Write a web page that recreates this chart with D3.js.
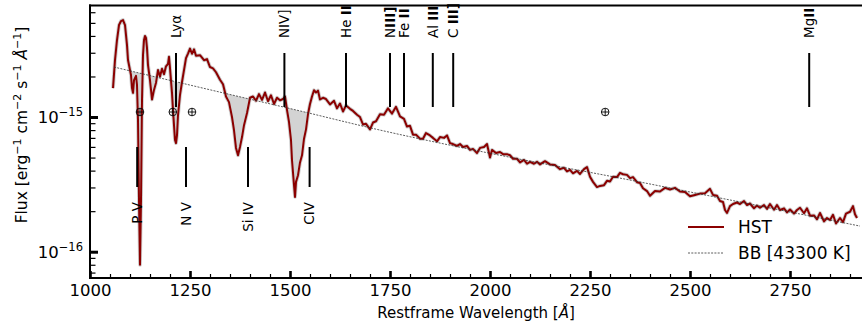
<!DOCTYPE html>
<html>
<head>
<meta charset="utf-8">
<script src="https://cdn.jsdelivr.net/npm/d3@7"></script>
<style>
  body { margin: 0; background: #fff; }
  svg { display: block; font-family: "DejaVu Sans", sans-serif; }
</style>
</head>
<body>
<svg id="chart" width="862" height="325"></svg>
<script>
// flux values are in units of 1e-16 erg cm^-2 s^-1 A^-1
const fluxUnit = 1e-16;

const waveHST = [
  1057.5, 1062.5, 1067.5, 1072.5, 1077.5, 1082.5, 1087.5, 1092.5, 1095, 1100,
  1102.5, 1105, 1107.5, 1110, 1115, 1117.5, 1120, 1122.5, 1125, 1127.5,
  1130, 1132.5, 1135, 1137.5, 1140, 1142.5, 1145, 1150, 1155, 1160,
  1165, 1170, 1175, 1180, 1185, 1190, 1195, 1197.5, 1200, 1205,
  1207.5, 1210, 1212.5, 1215, 1217.5, 1220, 1225, 1230, 1235, 1240,
  1245, 1250, 1255, 1260, 1265, 1275, 1285, 1292.5, 1300, 1307.5,
  1315, 1325, 1332.5, 1340, 1347.5, 1355, 1360, 1365, 1370, 1375,
  1380, 1385, 1392.5, 1400, 1407.5, 1415, 1422.5, 1430, 1437.5, 1445,
  1452.5, 1460, 1467.5, 1475, 1482.5, 1487.5, 1492.5, 1497.5, 1502.5, 1505,
  1510, 1512.5, 1515, 1520, 1525, 1530, 1535, 1540, 1545, 1550,
  1555, 1560, 1565, 1570, 1575, 1582.5, 1590, 1600, 1610, 1617.5,
  1625, 1632.5, 1640, 1650, 1657.5, 1667.5, 1675, 1682.5, 1690, 1700,
  1707.5, 1715, 1725, 1735, 1745, 1755, 1765, 1775, 1785, 1792.5,
  1800, 1807.5, 1815, 1825, 1832.5, 1840, 1850, 1857.5, 1867.5, 1875,
  1885, 1892.5, 1900, 1907.5, 1917.5, 1925, 1932.5, 1942.5, 1950, 1957.5,
  1967.5, 1975, 1985, 1992.5, 2000, 2005, 2015, 2025, 2032.5, 2042.5,
  2050, 2057.5, 2067.5, 2075, 2085, 2092.5, 2100, 2110, 2117.5, 2125,
  2137.5, 2150, 2162.5, 2175, 2185, 2192.5, 2200, 2207.5, 2217.5, 2225,
  2235, 2242.5, 2250, 2257.5, 2267.5, 2275, 2285, 2292.5, 2300, 2307.5,
  2317.5, 2325, 2332.5, 2342.5, 2350, 2357.5, 2367.5, 2375, 2382.5, 2392.5,
  2400, 2412.5, 2425, 2437.5, 2450, 2462.5, 2475, 2487.5, 2500, 2512.5,
  2525, 2537.5, 2550, 2557.5, 2567.5, 2575, 2582.5, 2587.5, 2592.5, 2600,
  2607.5, 2617.5, 2625, 2635, 2642.5, 2650, 2660, 2667.5, 2675, 2685,
  2692.5, 2700, 2710, 2717.5, 2725, 2735, 2742.5, 2750, 2760, 2767.5,
  2775, 2785, 2792.5, 2800, 2810, 2817.5, 2825, 2835, 2842.5, 2850,
  2857.5, 2865, 2875, 2882.5, 2890, 2900, 2907.5, 2912.5, 2917.5
];
const fluxHST = [
  16.4, 26.5, 37.3, 48.2, 51.6, 52.5, 48.2, 34.2, 26.5, 22.3,
  20.5, 16.4, 15.1, 18.8, 20.2, 17.3, 9.5, 2.42, 0.80, 2.42,
  13.4, 28.9, 37.3, 39.9, 38.6, 32.5, 24.3, 18.8, 13.5, 15.9,
  18.0, 22.3, 20.0, 22.8, 20.8, 23.8, 24.8, 28.0, 23.1, 15.1,
  11.3, 8.7, 6.75, 6.4, 7.35, 10.3, 14.6, 18.2, 22.3, 27.4,
  29.6, 32.2, 29.5, 31.8, 28.5, 28.8, 26.4, 26.9, 23.5, 23.0,
  21.5, 18.9, 17.5, 14.2, 12.9, 10.0, 8.0, 5.9, 5.2, 6.0,
  7.1, 8.7, 10.7, 13.9, 14.2, 13.2, 14.8, 13.4, 15.2, 13.1,
  14.5, 12.5, 13.9, 13.3, 13.6, 14.2, 11.3, 9.2, 6.75, 4.8,
  3.13, 2.55, 3.3, 3.7, 4.6, 5.2, 6.9, 8.1, 10.5, 12.5,
  14.2, 15.8, 15.2, 15.7, 13.5, 13.9, 13.6, 12.4, 13.2, 11.6,
  12.6, 11.0, 12.2, 11.5, 11.1, 10.4, 10.0, 8.8, 8.9, 8.1,
  9.1, 9.3, 10.5, 10.4, 11.6, 10.6, 11.9, 10.1, 9.7, 8.5,
  8.6, 7.4, 7.4, 6.9, 6.9, 7.6, 7.3, 7.0, 6.6, 7.1,
  7.0, 7.3, 6.4, 6.3, 6.1, 6.3, 6.0, 6.1, 5.7, 5.8,
  5.4, 5.9, 6.0, 6.3, 5.0, 5.7, 5.4, 5.5, 5.3, 5.3,
  5.2, 4.9, 4.9, 4.6, 4.8, 4.5, 4.65, 4.5, 4.65, 4.45,
  4.7, 4.45, 4.4, 4.1, 4.2, 3.95, 4.05, 3.82, 3.98, 3.78,
  4.1, 4.25, 3.6, 3.3, 3.02, 3.08, 3.12, 3.36, 3.32, 3.6,
  3.58, 3.85, 3.76, 3.72, 3.52, 3.58, 3.28, 3.24, 2.96, 2.82,
  2.6, 2.82, 2.8, 2.98, 2.9, 2.98, 2.8, 2.78, 2.58, 2.64,
  2.7, 2.72, 2.93, 2.64, 2.6, 2.38, 2.34, 2.04, 1.94, 2.18,
  2.26, 2.32, 2.26, 2.38, 2.22, 2.28, 2.1, 2.2, 2.12, 2.22,
  2.08, 2.26, 2.05, 2.22, 2.04, 2.1, 1.96, 2.06, 1.92, 2.04,
  2.12, 1.93, 2.1, 1.85, 1.86, 1.74, 1.94, 1.68, 1.78, 1.72,
  1.88, 1.62, 1.78, 1.66, 1.92, 1.98, 2.18, 1.9, 1.78
];

// blackbody fit
const waveBB = [1060, 1150, 1325, 1525, 1725, 2025, 2325, 2625, 2925];
const fluxBB = [23.5, 20.3, 15.3, 11.1, 8.0, 5.2, 3.52, 2.34, 1.55];

const topLineWaves = [1215, 1486, 1640, 1750, 1785, 1857, 1908, 2798];
const topLineNames = ["Lyα", "NIV]", "He ", "N", "Fe ", "Al ", "C ", "Mg"];
const topLineStages = ["", "", "II", "III]", "II", "III", "III]", "II"];

const bottomLineWaves = [1118, 1240, 1395, 1549];
const bottomLineNames = ["P V", "N V", "Si IV", "CIV"];

const earthWaves = [1125, 1207, 1255, 2288];

const xMajorTicks = [1000, 1250, 1500, 1750, 2000, 2250, 2500, 2750];
const yMajorTicks = [1e-16, 1e-15];
const yTickExponents = ["\u221216", "\u221215"];

const legendNames = ["HST", "BB [43300 K]"];

// layout
const svg = d3.select("#chart");
const mLeft = 90, mRight = 862, mTop = 5.5, mBottom = 278;

const x = d3.scaleLinear().domain([1000, 2930]).range([mLeft, mRight]);
const y = d3.scaleLog().domain([6.38e-17, 6.73e-15]).range([mBottom, mTop]);

const hst = waveHST.map((w, i) => ({ w: w, f: fluxHST[i] * fluxUnit }));
const bb = waveBB.map((w, i) => ({ w: w, f: fluxBB[i] * fluxUnit }));

// log-interpolated bb at any wavelength, used for the shaded absorption
const bbLog = d3.scaleLinear().domain(waveBB).range(fluxBB.map(v => Math.log10(v * fluxUnit)));
const bbAt = w => Math.pow(10, bbLog(w));

svg.append("clipPath").attr("id", "plotclip")
  .append("rect").attr("x", mLeft).attr("y", mTop).attr("width", mRight - mLeft).attr("height", mBottom - mTop);

const plot = svg.append("g").attr("clip-path", "url(#plotclip)");

const fillPts = hst.filter(d => d.w <= 1600);
plot.append("path")
  .datum(fillPts)
  .attr("fill", "#d3d3d3")
  .attr("d", d3.area()
    .x(d => x(d.w))
    .y0(d => y(bbAt(d.w)))
    .y1(d => y(Math.min(d.f, bbAt(d.w)))));

const line = d3.line().x(d => x(d.w)).y(d => y(d.f));

plot.append("path")
  .datum(hst)
  .attr("fill", "none")
  .attr("stroke", "#cfcfcf")
  .attr("stroke-width", 3.8)
  .attr("stroke-linejoin", "round")
  .attr("d", line);

plot.append("path")
  .datum(hst)
  .attr("fill", "none")
  .attr("stroke", "#8b0000")
  .attr("stroke-width", 2)
  .attr("stroke-linejoin", "round")
  .attr("d", line);

plot.append("path")
  .datum(bb)
  .attr("fill", "none")
  .attr("stroke", "#333")
  .attr("stroke-width", 0.8)
  .attr("stroke-dasharray", "2,1.3")
  .attr("d", d3.line().curve(d3.curveMonotoneX).x(d => x(d.w)).y(d => y(d.f)));

// line identifications, top
const topG = svg.append("g");
topLineWaves.forEach((w, i) => {
  topG.append("line")
    .attr("x1", x(w)).attr("x2", x(w))
    .attr("y1", 53).attr("y2", 107)
    .attr("stroke", "#000").attr("stroke-width", 2);
  const t = topG.append("text")
    .attr("transform", "translate(" + x(w) + ",38) rotate(-90)")
    .attr("dy", "0.36em")
    .attr("font-size", 13.5)
    .text(topLineNames[i]);
  if (topLineStages[i]) {
    t.append("tspan").attr("font-weight", "bold").text(topLineStages[i]);
  }
});

// line identifications, bottom
const botG = svg.append("g");
bottomLineWaves.forEach((w, i) => {
  botG.append("line")
    .attr("x1", x(w)).attr("x2", x(w))
    .attr("y1", 147).attr("y2", 187)
    .attr("stroke", "#000").attr("stroke-width", 2);
  botG.append("text")
    .attr("transform", "translate(" + x(w) + ",202) rotate(-90)")
    .attr("dy", "0.36em")
    .attr("text-anchor", "end")
    .attr("font-size", 13.5)
    .text(bottomLineNames[i]);
});

// geocoronal / telluric markers
earthWaves.forEach(w => {
  const g = svg.append("g").attr("transform", "translate(" + x(w) + ",112)");
  g.append("circle").attr("r", 3.8).attr("fill", "none").attr("stroke", "#000").attr("stroke-width", 0.9);
  g.append("line").attr("x1", -3.8).attr("x2", 3.8).attr("stroke", "#000").attr("stroke-width", 0.9);
  g.append("line").attr("y1", -3.8).attr("y2", 3.8).attr("stroke", "#000").attr("stroke-width", 0.9);
});

// x axis
const xMinor = d3.range(1050, 2930, 50).filter(v => v % 250 !== 0);
svg.append("g")
  .attr("transform", "translate(0," + mBottom + ")")
  .call(d3.axisBottom(x).tickValues(xMinor).tickSize(-4).tickFormat(""))
  .call(g => g.select(".domain").remove())
  .call(g => g.selectAll("line").attr("stroke-width", 1.2));

svg.append("g")
  .attr("transform", "translate(0," + mBottom + ")")
  .call(d3.axisBottom(x).tickValues(xMajorTicks).tickSize(-7).tickPadding(6).tickFormat(d3.format("d")))
  .call(g => g.select(".domain").remove())
  .call(g => g.selectAll("line").attr("stroke-width", 2.6))
  .call(g => g.selectAll("text").attr("font-size", 16.5).attr("font-family", "DejaVu Sans").attr("fill", "#000"));

// y axis
const yMinor = [7e-17, 8e-17, 9e-17, 2e-16, 3e-16, 4e-16, 5e-16, 6e-16, 7e-16, 8e-16, 9e-16,
  2e-15, 3e-15, 4e-15, 5e-15, 6e-15];
svg.append("g")
  .attr("transform", "translate(" + mLeft + ",0)")
  .call(d3.axisLeft(y).tickValues(yMinor).tickSize(-5.5).tickFormat(""))
  .call(g => g.select(".domain").remove())
  .call(g => g.selectAll("line").attr("stroke-width", 1.2));

svg.append("g")
  .attr("transform", "translate(" + mLeft + ",0)")
  .call(d3.axisLeft(y).tickValues(yMajorTicks).tickSize(-8).tickFormat(""))
  .call(g => g.select(".domain").remove())
  .call(g => g.selectAll("line").attr("stroke-width", 3));

yMajorTicks.forEach((v, i) => {
  const t = svg.append("text")
    .attr("x", 83).attr("y", y(v) + 6)
    .attr("text-anchor", "end")
    .attr("font-size", 16.5)
    .text("10");
  t.append("tspan").attr("font-size", 11.5).attr("dy", -7).text(yTickExponents[i]);
});

// spines
svg.append("line").attr("x1", mLeft - 1).attr("x2", mRight).attr("y1", mTop).attr("y2", mTop)
  .attr("stroke", "#000").attr("stroke-width", 2);
svg.append("line").attr("x1", mLeft - 1).attr("x2", mRight).attr("y1", mBottom).attr("y2", mBottom)
  .attr("stroke", "#000").attr("stroke-width", 2);
svg.append("line").attr("x1", mLeft).attr("x2", mLeft).attr("y1", mTop - 1).attr("y2", mBottom + 1)
  .attr("stroke", "#000").attr("stroke-width", 2);

// axis titles
const xt = svg.append("text")
  .attr("x", (mLeft + mRight) / 2).attr("y", 318)
  .attr("text-anchor", "middle")
  .attr("font-size", 15)
  .text("Restframe Wavelength [");
xt.append("tspan").attr("font-style", "italic").text("Å");
xt.append("tspan").text("]");

const yt = svg.append("text")
  .attr("transform", "translate(27,125) rotate(-90)")
  .attr("text-anchor", "middle")
  .attr("font-size", 15.5);
yt.append("tspan").text("Flux [erg");
yt.append("tspan").attr("font-size", 11).attr("dy", -6).text("\u22121");
yt.append("tspan").attr("dy", 6).text(" cm");
yt.append("tspan").attr("font-size", 11).attr("dy", -6).text("\u22122");
yt.append("tspan").attr("dy", 6).text(" s");
yt.append("tspan").attr("font-size", 11).attr("dy", -6).text("\u22121");
yt.append("tspan").attr("dy", 6).attr("font-style", "italic").text(" Å");
yt.append("tspan").attr("font-size", 11).attr("dy", -6).text("\u22121");
yt.append("tspan").attr("dy", 6).text("]");

// legend
const leg = svg.append("g");
leg.append("line").attr("x1", 688).attr("x2", 724).attr("y1", 227).attr("y2", 227)
  .attr("stroke", "#8b0000").attr("stroke-width", 2);
leg.append("line").attr("x1", 688).attr("x2", 724).attr("y1", 253).attr("y2", 253)
  .attr("stroke", "#333").attr("stroke-width", 0.8).attr("stroke-dasharray", "2,1.3");
leg.selectAll("text.lg").data(legendNames).enter().append("text")
  .attr("class", "lg")
  .attr("x", 738)
  .attr("y", (d, i) => 233 + i * 26)
  .attr("font-size", 17)
  .text(d => d);
</script>
</body>
</html>
